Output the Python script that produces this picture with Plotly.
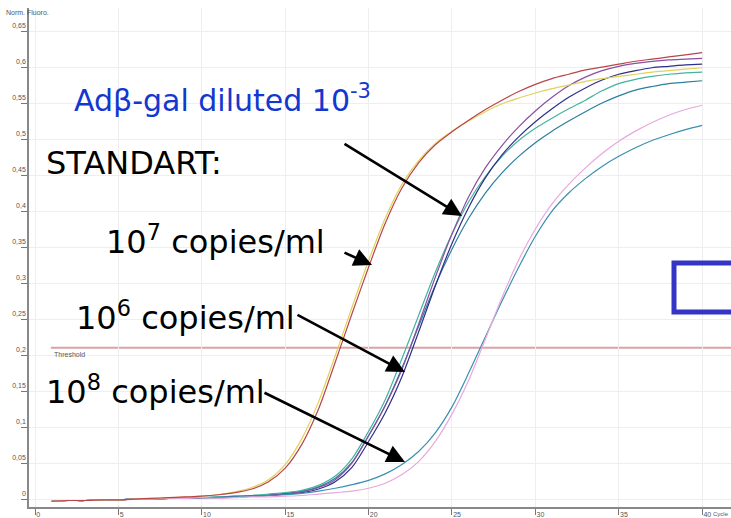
import plotly.graph_objects as go

# Real-time PCR amplification curves (normalised fluorescence vs cycle)
cycles = list(range(1, 41))

base10 = [-0.003, -0.002, -0.002, -0.001, -0.001, 0.000, 0.000, 0.001, 0.001, 0.002]

std_1e7_red = [-0.003, -0.002, -0.002, -0.001, -0.001, 0.000, 0.001, 0.002, 0.003, 0.004,
               0.006, 0.009, 0.014, 0.024, 0.043, 0.076, 0.125, 0.190, 0.257, 0.322,
               0.383, 0.432, 0.467, 0.492, 0.510, 0.526, 0.541, 0.554, 0.566, 0.576,
               0.584, 0.590, 0.596, 0.600, 0.604, 0.608, 0.611, 0.614, 0.617, 0.620]
std_1e7_yellow = [-0.003, -0.002, -0.002, -0.001, -0.001, 0.000, 0.001, 0.002, 0.003, 0.004,
                  0.006, 0.010, 0.016, 0.027, 0.048, 0.084, 0.135, 0.199, 0.266, 0.331,
                  0.390, 0.437, 0.470, 0.494, 0.511, 0.525, 0.538, 0.549, 0.557, 0.564,
                  0.570, 0.575, 0.580, 0.584, 0.587, 0.590, 0.593, 0.595, 0.597, 0.599]
std_1e6_purple = base10 + [0.002, 0.003, 0.004, 0.005, 0.007, 0.010, 0.016, 0.027, 0.050, 0.088,
                           0.130, 0.180, 0.243, 0.308, 0.368, 0.420, 0.460, 0.491, 0.517, 0.539,
                           0.558, 0.574, 0.586, 0.595, 0.601, 0.605, 0.608, 0.610, 0.611, 0.612]
std_1e6_navy = base10 + [0.002, 0.003, 0.004, 0.005, 0.007, 0.009, 0.014, 0.024, 0.044, 0.080,
                         0.120, 0.170, 0.232, 0.296, 0.355, 0.405, 0.446, 0.478, 0.503, 0.524,
                         0.542, 0.558, 0.571, 0.582, 0.590, 0.595, 0.599, 0.601, 0.603, 0.604]
adbgal_green = base10 + [0.003, 0.004, 0.005, 0.007, 0.009, 0.012, 0.019, 0.032, 0.056, 0.094,
                         0.138, 0.195, 0.255, 0.315, 0.368, 0.413, 0.448, 0.476, 0.498, 0.515,
                         0.529, 0.542, 0.554, 0.567, 0.577, 0.583, 0.587, 0.590, 0.592, 0.593]
adbgal_blue = base10 + [0.003, 0.004, 0.005, 0.006, 0.008, 0.011, 0.017, 0.029, 0.051, 0.088,
                        0.130, 0.182, 0.240, 0.297, 0.347, 0.390, 0.425, 0.453, 0.476, 0.495,
                        0.511, 0.525, 0.538, 0.550, 0.560, 0.568, 0.573, 0.577, 0.579, 0.581]
std_1e8_teal = base10 + [0.002, 0.003, 0.004, 0.005, 0.006, 0.008, 0.011, 0.015, 0.020, 0.026,
                         0.035, 0.048, 0.066, 0.092, 0.128, 0.175, 0.225, 0.275, 0.322, 0.365,
                         0.400, 0.425, 0.445, 0.462, 0.476, 0.488, 0.498, 0.506, 0.513, 0.519]
std_1e8_pink = base10 + [0.001, 0.002, 0.003, 0.003, 0.004, 0.005, 0.007, 0.009, 0.011, 0.015,
                         0.022, 0.034, 0.052, 0.080, 0.118, 0.165, 0.222, 0.280, 0.332, 0.375,
                         0.410, 0.437, 0.460, 0.480, 0.497, 0.511, 0.523, 0.533, 0.541, 0.547]

series = [
    (adbgal_blue, "#2a7fa0"),
    (adbgal_green, "#43b3a0"),
    (std_1e6_navy, "#2e2f8a"),
    (std_1e6_purple, "#8a4fa0"),
    (std_1e8_teal, "#3a90b0"),
    (std_1e8_pink, "#e8a8dc"),
    (std_1e7_yellow, "#e2d25a"),
    (std_1e7_red, "#b8454a"),
]

threshold = 0.21
y_ticks = [0, 0.05, 0.1, 0.15, 0.2, 0.25, 0.3, 0.35, 0.4, 0.45, 0.5, 0.55, 0.6, 0.65]
y_tick_text = ["0", "0,05", "0,1", "0,15", "0,2", "0,25", "0,3", "0,35", "0,4", "0,45",
               "0,5", "0,55", "0,6", "0,65"]
x_ticks = [0, 5, 10, 15, 20, 25, 30, 35, 40]

W, H = 731, 518
ML, MR, MT, MB = 29, 0, 8, 11
X_RANGE = [-0.36, 41.73]
Y_RANGE = [-0.011, 0.682]


def px_x(px):
    return X_RANGE[0] + (px - ML) / (W - ML - MR) * (X_RANGE[1] - X_RANGE[0])


def px_y(py):
    return Y_RANGE[1] - (py - MT) / (H - MT - MB) * (Y_RANGE[1] - Y_RANGE[0])


def paper_x(px):
    return (px - ML) / (W - ML - MR)


def paper_y(py):
    return 1 - (py - MT) / (H - MT - MB)


fig = go.Figure()
for vals, col in series:
    fig.add_trace(go.Scatter(x=cycles, y=vals, mode="lines",
                             line=dict(color=col, width=1.2, shape="spline", smoothing=0.8),
                             showlegend=False, hoverinfo="skip"))

# threshold line
fig.add_shape(type="line", x0=0.95, x1=X_RANGE[1], y0=threshold, y1=threshold,
              line=dict(color="#d9a3a3", width=2), layer="below")

# blue frame on the right edge
fig.add_shape(type="rect", x0=px_x(674), x1=px_x(745), y0=px_y(263), y1=px_y(312),
              line=dict(color="#3434c6", width=5))

ann = []
small = dict(family="Liberation Sans, Arial, sans-serif", size=7, color="#555555")
ann.append(dict(text="Norm. Fluoro.", x=paper_x(4), y=paper_y(12), xref="paper", yref="paper",
                showarrow=False, xanchor="left", yanchor="middle", font=small))
ann.append(dict(text="Threshold", x=px_x(52), y=px_y(354), xref="x", yref="y", showarrow=False,
                xanchor="left", yanchor="middle", font=small))
ann.append(dict(text="Cycle", x=paper_x(730), y=paper_y(514), xref="paper", yref="paper",
                showarrow=False, xanchor="right", yanchor="middle", borderpad=0,
                font=dict(family="Liberation Sans, Arial, sans-serif", size=6, color="#555555")))

big = dict(family="DejaVu Sans, Verdana, sans-serif", size=32, color="black")
ann.append(dict(text="Adβ-gal diluted 10<sup>-3</sup>", x=px_x(72), y=px_y(98), xref="x", yref="y",
                showarrow=False, xanchor="left", yanchor="middle",
                font=dict(family="DejaVu Sans, Verdana, sans-serif", size=30, color="#1238d0")))
ann.append(dict(text="STANDART:", x=px_x(44), y=px_y(163), xref="x", yref="y",
                showarrow=False, xanchor="left", yanchor="middle", font=big))
ann.append(dict(text="10<sup>7</sup> copies/ml", x=px_x(104), y=px_y(240), xref="x", yref="y",
                showarrow=False, xanchor="left", yanchor="middle", font=big))
ann.append(dict(text="10<sup>6</sup> copies/ml", x=px_x(74), y=px_y(316), xref="x", yref="y",
                showarrow=False, xanchor="left", yanchor="middle", font=big))
ann.append(dict(text="10<sup>8</sup> copies/ml", x=px_x(44), y=px_y(390), xref="x", yref="y",
                showarrow=False, xanchor="left", yanchor="middle", font=big))

arrows = [((343, 143), (462, 216)),
          ((343, 252), (372, 265)),
          ((296, 314), (405, 372)),
          ((263, 392), (405, 462))]
for (tx, ty), (hx, hy) in arrows:
    ann.append(dict(x=px_x(hx), y=px_y(hy), ax=px_x(tx), ay=px_y(ty), xref="x", yref="y",
                    axref="x", ayref="y", text="", showarrow=True, arrowhead=2,
                    arrowsize=1.4, arrowwidth=2.6, arrowcolor="black", standoff=0))

fig.update_layout(
    width=W, height=H, margin=dict(l=ML, r=MR, t=MT, b=MB, autoexpand=False),
    paper_bgcolor="white", plot_bgcolor="white", annotations=ann,
    xaxis=dict(range=X_RANGE, tickvals=x_ticks, ticks="outside", ticklen=6, tickcolor="#777777",
               ticklabelposition="outside right", showline=True, linecolor="#888888", linewidth=1.5,
               showgrid=True, gridcolor="#eeeeee", gridwidth=1, zeroline=False,
               tickfont=dict(family="Liberation Sans, Arial, sans-serif", size=7, color="#555555"),
               automargin=False),
    yaxis=dict(range=Y_RANGE, tickvals=y_ticks, ticktext=y_tick_text, ticks="outside", ticklen=6,
               tickcolor="#777777", ticklabelposition="outside top", showline=True,
               linecolor="#888888", linewidth=1.5, showgrid=True, gridcolor="#eeeeee", gridwidth=1,
               zeroline=False,
               tickfont=dict(family="Liberation Sans, Arial, sans-serif", size=7, color="#555555"),
               automargin=False),
)

fig.write_html("out.html")
